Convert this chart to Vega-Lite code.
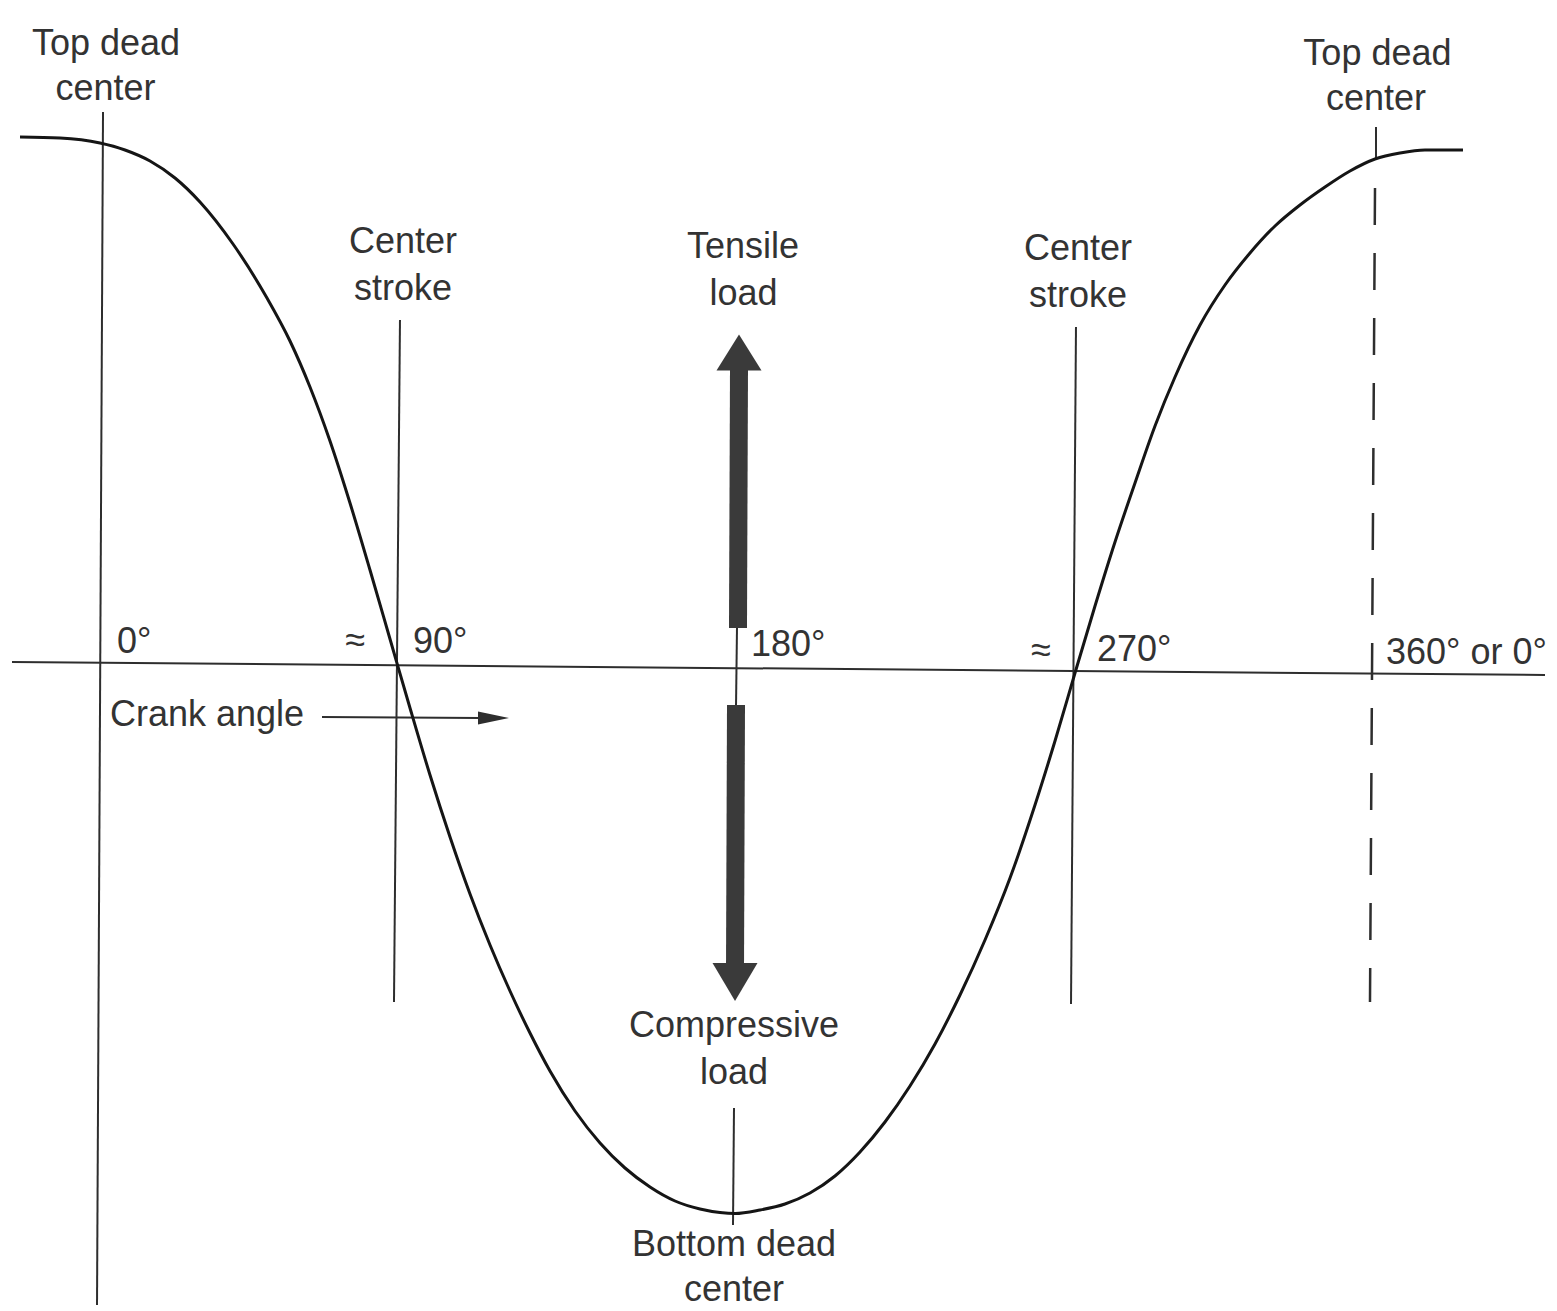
{
  "$schema": "https://vega.github.io/schema/vega-lite/v6.json",
  "width": 1557,
  "height": 1311,
  "autosize": {"type": "none"},
  "padding": 0,
  "background": "white",
  "config": {"view": {"stroke": null}},
  "datasets": {
    "curve": [
      {"deg": -22.68, "load": 5.31}, {"deg": -11.34, "load": 5.30}, {"deg": 0.0, "load": 5.25},
      {"deg": 7.08, "load": 5.18}, {"deg": 14.17, "load": 5.07}, {"deg": 21.26, "load": 4.90},
      {"deg": 28.34, "load": 4.66}, {"deg": 37.70, "load": 4.24}, {"deg": 47.33, "load": 3.70},
      {"deg": 53.85, "load": 3.27}, {"deg": 59.52, "load": 2.81}, {"deg": 65.19, "load": 2.27},
      {"deg": 70.86, "load": 1.65}, {"deg": 76.53, "load": 0.98}, {"deg": 82.20, "load": 0.29},
      {"deg": 87.87, "load": -0.40}, {"deg": 93.54, "load": -1.07}, {"deg": 99.21, "load": -1.69},
      {"deg": 104.88, "load": -2.26}, {"deg": 110.55, "load": -2.77}, {"deg": 116.21, "load": -3.23},
      {"deg": 121.88, "load": -3.65}, {"deg": 127.55, "load": -4.03}, {"deg": 134.64, "load": -4.43},
      {"deg": 141.73, "load": -4.75}, {"deg": 148.81, "load": -5.00}, {"deg": 155.90, "load": -5.19},
      {"deg": 162.99, "load": -5.33}, {"deg": 170.07, "load": -5.41}, {"deg": 175.74, "load": -5.445},
      {"deg": 180.0, "load": -5.455}, {"deg": 187.08, "load": -5.42}, {"deg": 194.17, "load": -5.36},
      {"deg": 201.25, "load": -5.25}, {"deg": 208.34, "load": -5.08}, {"deg": 215.43, "load": -4.84},
      {"deg": 222.51, "load": -4.54}, {"deg": 229.60, "load": -4.18}, {"deg": 236.69, "load": -3.76},
      {"deg": 243.77, "load": -3.27}, {"deg": 250.86, "load": -2.72}, {"deg": 257.95, "load": -2.10},
      {"deg": 265.03, "load": -1.37}, {"deg": 270.70, "load": -0.73}, {"deg": 276.37, "load": -0.05},
      {"deg": 282.04, "load": 0.62}, {"deg": 287.71, "load": 1.26}, {"deg": 293.38, "load": 1.85},
      {"deg": 299.05, "load": 2.42}, {"deg": 304.72, "load": 2.91}, {"deg": 311.81, "load": 3.43},
      {"deg": 318.89, "load": 3.83}, {"deg": 325.98, "load": 4.15}, {"deg": 333.07, "load": 4.42},
      {"deg": 340.15, "load": 4.63}, {"deg": 347.24, "load": 4.81}, {"deg": 354.33, "load": 4.97},
      {"deg": 361.41, "load": 5.09}, {"deg": 368.50, "load": 5.15}, {"deg": 375.58, "load": 5.18},
      {"deg": 386.35, "load": 5.18}
    ],
    "segments": [
      {"id": "tdc0", "deg": 0.85, "load": 5.56}, {"id": "tdc0", "deg": -0.85, "load": -6.37},
      {"id": "cs1", "deg": 85.03, "load": 3.48}, {"id": "cs1", "deg": 83.33, "load": -3.34},
      {"id": "cs2", "deg": 276.65, "load": 3.41}, {"id": "cs2", "deg": 275.24, "load": -3.36},
      {"id": "mid", "deg": 180.56, "load": 0.40}, {"id": "mid", "deg": 180.28, "load": -0.39},
      {"id": "bdc", "deg": 179.71, "load": -4.40}, {"id": "bdc", "deg": 179.43, "load": -5.57},
      {"id": "axis", "deg": -24.95, "load": 0.06}, {"id": "axis", "deg": 409.60, "load": -0.07},
      {"id": "crank", "deg": 62.92, "load": -0.49}, {"id": "crank", "deg": 107.71, "load": -0.50},
      {"id": "tdc360", "deg": 361.69, "load": 5.41}, {"id": "tdc360", "deg": 361.69, "load": 5.09}
    ],
    "dashed": [
      {"deg": 361.41, "load": 4.80}, {"deg": 359.99, "load": -3.34}
    ],
    "shafts": [
      {"id": "tensile", "deg": 181.13, "load": 3.02}, {"id": "tensile", "deg": 180.84, "load": 0.40},
      {"id": "compressive", "deg": 180.28, "load": -0.37}, {"id": "compressive", "deg": 180.0, "load": -2.98}
    ],
    "heads": [
      {"id": "tensile", "deg": 181.13, "load": 3.155},
      {"id": "compressive", "deg": 180.0, "load": -3.14},
      {"id": "crank", "deg": 111.54, "load": -0.50}
    ],
    "centerLabels": [
      {"label": "Top dead", "deg": 1.70, "load": 6.13},
      {"label": "center", "deg": 1.55, "load": 5.68},
      {"label": "Center", "deg": 85.88, "load": 4.15},
      {"label": "stroke", "deg": 85.88, "load": 3.68},
      {"label": "Tensile", "deg": 182.26, "load": 4.10},
      {"label": "load", "deg": 182.4, "load": 3.63},
      {"label": "Center", "deg": 277.22, "load": 4.08},
      {"label": "stroke", "deg": 277.22, "load": 3.61},
      {"label": "Top dead", "deg": 362.1, "load": 6.03},
      {"label": "center", "deg": 361.7, "load": 5.58},
      {"label": "Compressive", "deg": 179.71, "load": -3.69},
      {"label": "load", "deg": 179.71, "load": -4.16},
      {"label": "Bottom dead", "deg": 179.71, "load": -5.88},
      {"label": "center", "deg": 179.71, "load": -6.33},
      {"label": "≈", "deg": 72.28, "load": 0.16},
      {"label": "≈", "deg": 266.73, "load": 0.06}
    ],
    "leftLabels": [
      {"label": "0°", "deg": 4.82, "load": 0.15},
      {"label": "90°", "deg": 88.72, "load": 0.15},
      {"label": "180°", "deg": 184.53, "load": 0.12},
      {"label": "270°", "deg": 282.61, "load": 0.07},
      {"label": "360° or 0°", "deg": 364.53, "load": 0.04},
      {"label": "Crank angle", "deg": 2.83, "load": -0.58}
    ]
  },
  "encoding": {
    "x": {"field": "deg", "type": "quantitative", "scale": {"domain": [-28.35, 413.0], "nice": false, "zero": false}, "axis": null},
    "y": {"field": "load", "type": "quantitative", "scale": {"domain": [-6.43, 6.68], "nice": false, "zero": false}, "axis": null}
  },
  "layer": [
    {
      "data": {"name": "segments"},
      "mark": {"type": "line", "strokeWidth": 2, "color": "#2e2e2e"},
      "encoding": {"detail": {"field": "id", "type": "nominal"}, "order": {"value": null}}
    },
    {
      "data": {"name": "dashed"},
      "mark": {"type": "line", "strokeWidth": 2.5, "color": "#2e2e2e", "strokeDash": [37, 28]},
      "encoding": {"order": {"value": null}}
    },
    {
      "data": {"name": "curve"},
      "mark": {"type": "line", "strokeWidth": 3, "color": "#151515", "interpolate": "monotone"},
      "encoding": {}
    },
    {
      "data": {"name": "shafts"},
      "mark": {"type": "line", "strokeWidth": 18, "color": "#3a3a3a", "strokeCap": "butt"},
      "encoding": {"detail": {"field": "id", "type": "nominal"}, "order": {"value": null}}
    },
    {
      "data": {"name": "heads"},
      "transform": [{"filter": "datum.id === 'tensile'"}],
      "mark": {"type": "point", "filled": true, "opacity": 1, "color": "#3a3a3a", "strokeWidth": 0, "size": 2025, "shape": "M0,-0.8L1,0.8L-1,0.8Z"},
      "encoding": {}
    },
    {
      "data": {"name": "heads"},
      "transform": [{"filter": "datum.id === 'compressive'"}],
      "mark": {"type": "point", "filled": true, "opacity": 1, "color": "#3a3a3a", "strokeWidth": 0, "size": 2025, "shape": "M-1,-0.84L1,-0.84L0,0.84Z"},
      "encoding": {}
    },
    {
      "data": {"name": "heads"},
      "transform": [{"filter": "datum.id === 'crank'"}],
      "mark": {"type": "point", "filled": true, "opacity": 1, "color": "#2e2e2e", "strokeWidth": 0, "size": 961, "shape": "M-1,-0.42L1,0L-1,0.42Z"},
      "encoding": {}
    },
    {
      "data": {"name": "centerLabels"},
      "mark": {"type": "text", "align": "center", "baseline": "alphabetic", "font": "Liberation Sans", "fontSize": 36, "color": "#333333"},
      "encoding": {"text": {"field": "label", "type": "nominal"}}
    },
    {
      "data": {"name": "leftLabels"},
      "mark": {"type": "text", "align": "left", "baseline": "alphabetic", "font": "Liberation Sans", "fontSize": 36, "color": "#333333"},
      "encoding": {"text": {"field": "label", "type": "nominal"}}
    }
  ]
}
